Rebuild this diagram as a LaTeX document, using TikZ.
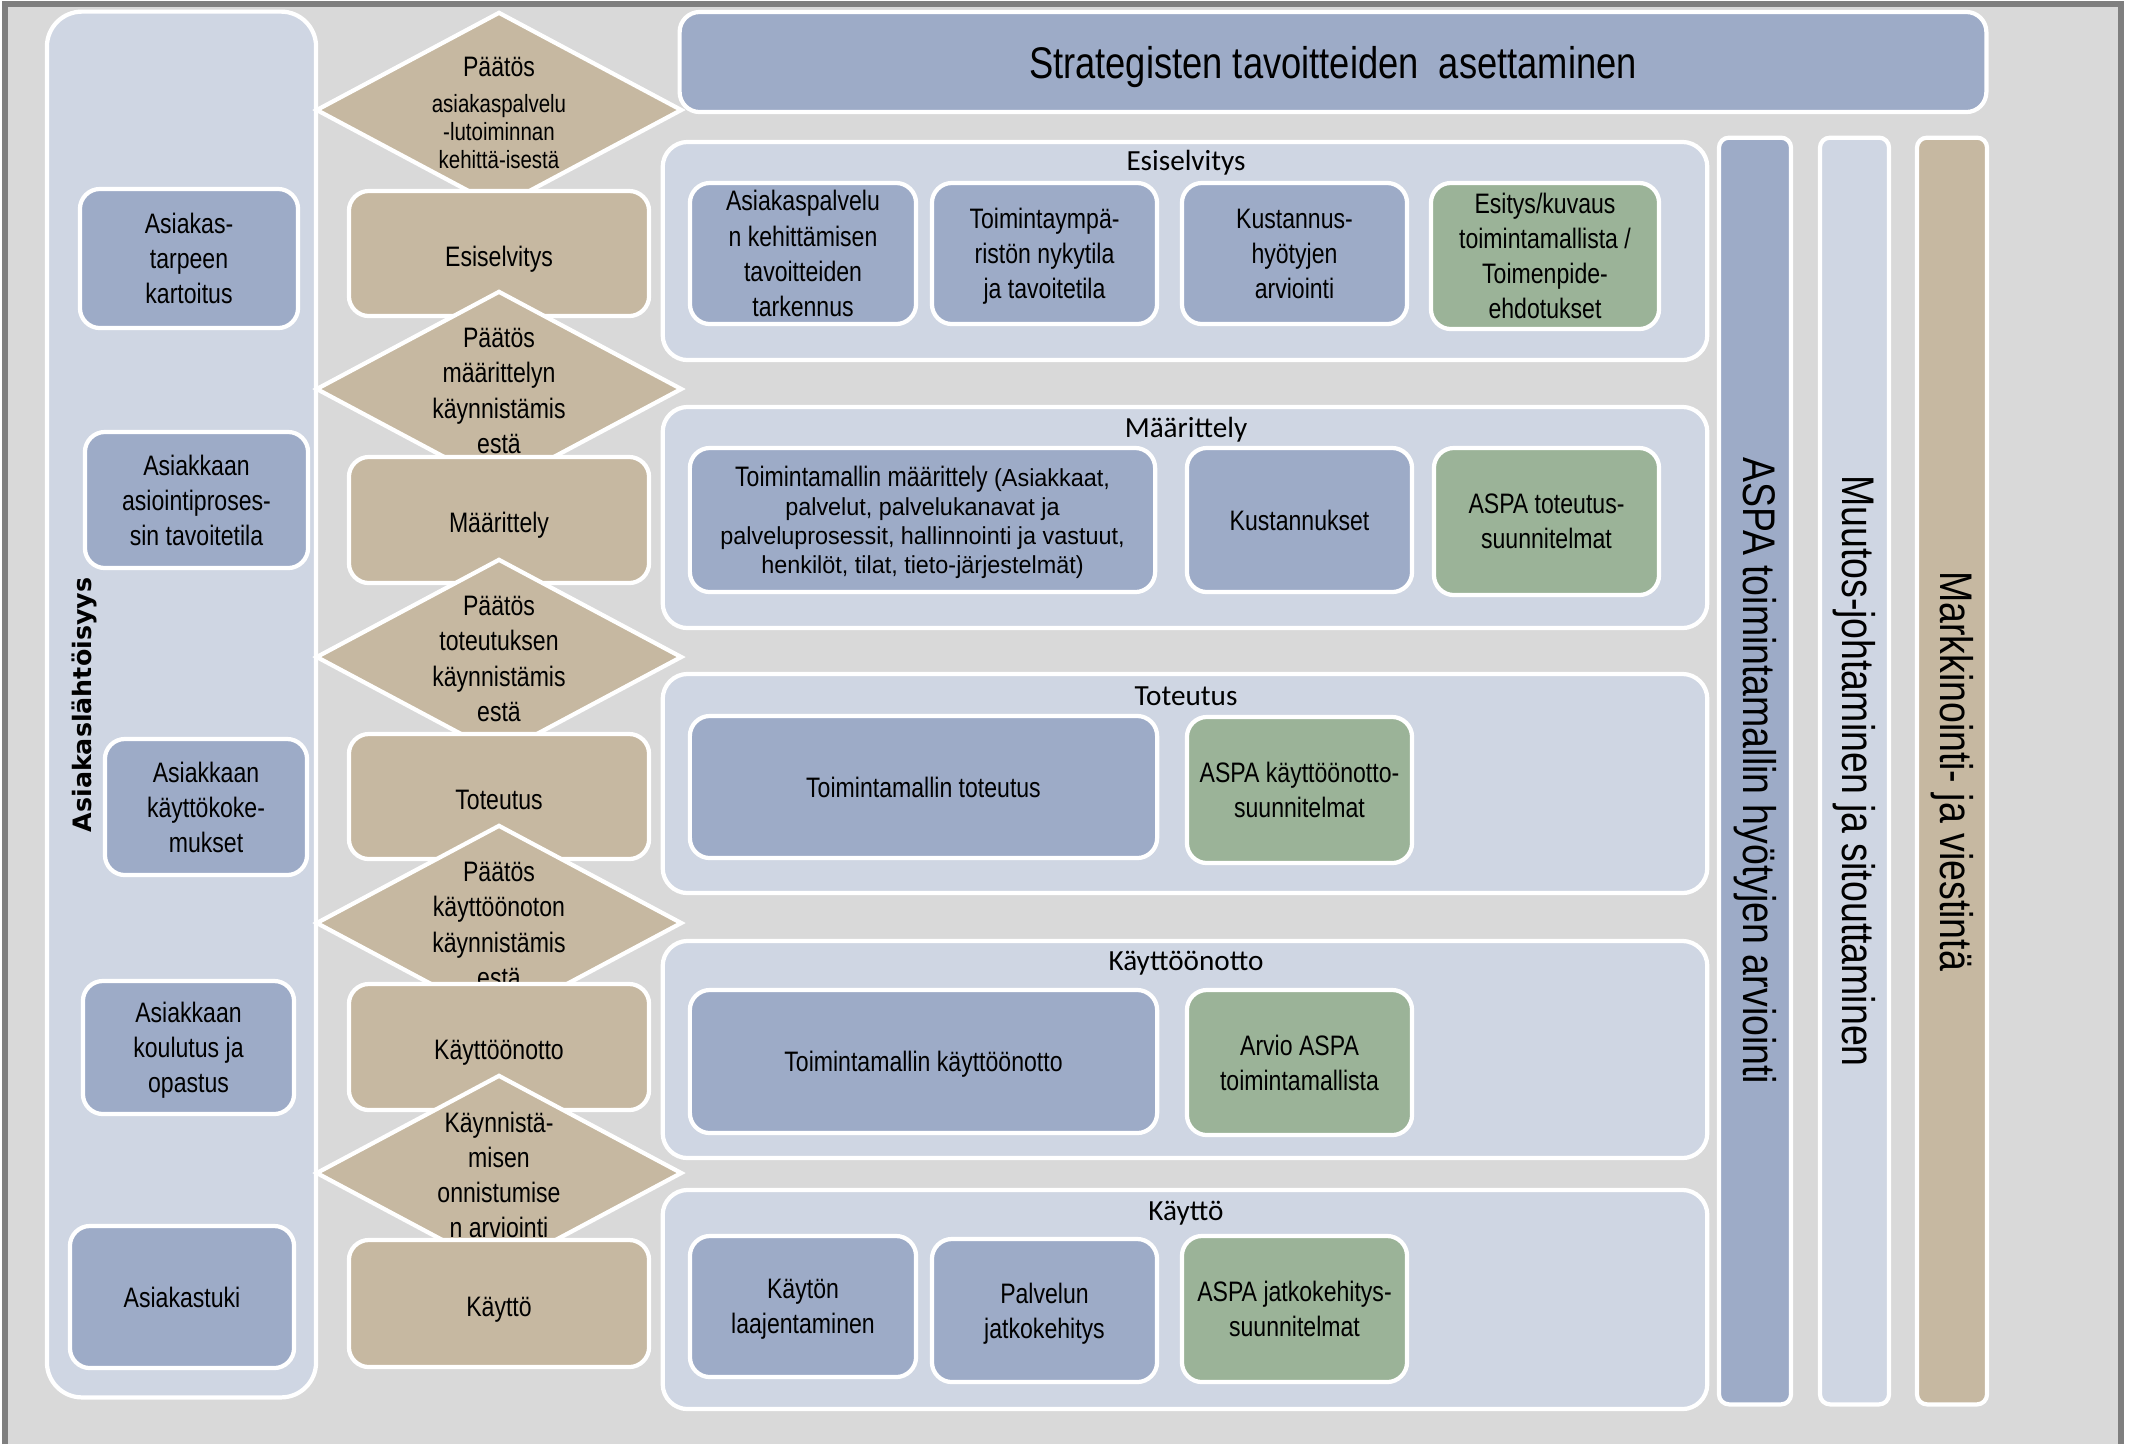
\documentclass[tikz,border=0pt]{standalone}
\usepackage{fontspec}
\setmainfont[FakeStretch=0.82]{Liberation Sans}
\newfontfamily\headfont{Carlito}
\newfontfamily\lanefont{DejaVu Sans}
\newfontfamily\notefont[FakeStretch=0.95]{Liberation Sans}
\usetikzlibrary{shapes.geometric}
\definecolor{bggray}{HTML}{D9D9D9}
\definecolor{framegray}{HTML}{7F7F7F}
\definecolor{lanefill}{HTML}{CFD6E3}
\definecolor{taskblue}{HTML}{9DABC7}
\definecolor{phasetan}{HTML}{C6B8A1}
\definecolor{plangreen}{HTML}{9BB398}

\begin{document}
\begin{tikzpicture}[x=0.01cm, y=-0.01cm,
    outline/.style={draw=white, line width=1.2pt},
    lane/.style={outline, rounded corners=0.35cm, fill=lanefill, inner sep=0pt},
    task/.style={outline, rounded corners=0.2cm, fill=taskblue, align=center,
                 inner sep=0pt, text depth=0pt, font=\fontsize{8}{10}\selectfont},
    phase/.style={task, fill=phasetan, minimum width=3cm, text height=0.25cm},
    plan/.style={task, fill=plangreen},
    gate/.style={diamond, outline, fill=phasetan, minimum width=3.66cm,
                 minimum height=1.96cm, inner sep=0pt},
    gatetext/.style={align=center, font=\fontsize{8}{10}\selectfont},
    panel/.style={outline, rounded corners=0.25cm, fill=lanefill,
                  minimum width=10.44cm, inner sep=0pt},
    head/.style={font=\headfont\fontsize{8.3}{10}\selectfont},
    bar/.style={outline, rounded corners=0.1cm, inner sep=0pt, rotate=-90,
                minimum width=12.66cm, font=\fontsize{13}{15}\selectfont}
]
\useasboundingbox (0,0) rectangle (2136,1444);

% background and frame
\fill[white] (0,0) rectangle (2136,1444);
\fill[bggray] (5,4) rectangle (2121,1444);
\draw[framegray, line width=1.7pt] (5,1444) -- (5,4) -- (2121,4) -- (2121,1444);

% customer lane
\node[lane, minimum width=2.69cm, minimum height=13.85cm] (lane) at (181.5,704.5) {};
\node[task, minimum width=2.18cm, minimum height=1.39cm] (need) at (189,258.5) {Asiakas-\\tarpeen\\kartoitus};
\node[task, minimum width=2.23cm, minimum height=1.36cm] (target) at (196.5,500) {Asiakkaan\\asiointiproses-\\sin tavoitetila};
\node[task, minimum width=2.02cm, minimum height=1.36cm] (experience) at (206,807) {Asiakkaan\\käyttökoke-\\mukset};
\node[task, minimum width=2.11cm, minimum height=1.33cm] (training) at (188.5,1047.5) {Asiakkaan\\koulutus ja\\opastus};
\node[task, minimum width=2.24cm, minimum height=1.42cm] (support) at (182,1297) {Asiakastuki};
\node[rotate=90, font=\lanefont\bfseries\fontsize{7.2}{9}\selectfont] (lanelbl) at (84,705) {Asiakaslähtöisyys};

% decisions and phases
\node[gate] (g1) at (499,110) {};
\node[gatetext, font=\fontsize{7.1}{8}\selectfont] (g1t) at (499,113)
    {{\fontsize{8}{8}\selectfont Päätös}\\[2pt]asiakaspalvelu\\-lutoiminnan\\kehittä-isestä};
\node[phase, minimum height=1.25cm] (esi) at (499,253.5) {Esiselvitys};
\node[gate] (g2) at (499,389) {};
\node[gatetext] (g2t) at (499,391) {Päätös\\määrittelyn\\käynnistämis\\estä};
\node[phase, minimum height=1.26cm] (maar) at (499,520) {Määrittely};
\node[gate] (g3) at (499,657) {};
\node[gatetext] (g3t) at (499,659) {Päätös\\toteutuksen\\käynnistämis\\estä};
\node[phase, minimum height=1.25cm] (tot) at (499,796.5) {Toteutus};
\node[gate] (g4) at (499,923) {};
\node[gatetext] (g4t) at (499,925) {Päätös\\käyttöönoton\\käynnistämis\\estä};
\node[phase, minimum height=1.26cm] (kayo) at (499,1047) {Käyttöönotto};
\node[gate] (g5) at (499,1173) {};
\node[gatetext] (g5t) at (499,1175) {Käynnistä-\\misen\\onnistumise\\n arviointi};
\node[phase, minimum height=1.27cm] (kayt) at (499,1303.5) {Käyttö};

% strategy banner
\node[task, minimum width=13.06cm, minimum height=1cm, font=\fontsize{12.6}{15}\selectfont]
    (strat) at (1333,62) {Strategisten tavoitteiden~ asettaminen};

% Esiselvitys
\node[panel, minimum height=2.18cm] (p1) at (1185,251) {};
\node[head] (p1t) at (1186,163) {Esiselvitys};
\node[task, minimum width=2.26cm, minimum height=1.41cm] (p1a) at (803,253.5) {Asiakaspalvelu\\n kehittämisen\\tavoitteiden\\tarkennus};
\node[task, minimum width=2.25cm, minimum height=1.41cm] (p1b) at (1044.5,253.5) {Toimintaympä-\\ristön nykytila\\ja tavoitetila};
\node[task, minimum width=2.25cm, minimum height=1.41cm] (p1c) at (1294.5,253.5) {Kustannus-\\hyötyjen\\arviointi};
\node[plan, minimum width=2.28cm, minimum height=1.46cm] (p1d) at (1545,256) {Esitys/kuvaus\\toimintamallista /\\Toimenpide-\\ehdotukset};

% Määrittely
\node[panel, minimum height=2.21cm] (p2) at (1185,517.5) {};
\node[head] (p2t) at (1186,430) {Määrittely};
\node[task, minimum width=4.65cm, minimum height=1.44cm, font=\notefont\fontsize{7}{8.2}\selectfont] (p2a) at (922.5,520)
    {{\normalfont\fontsize{8}{8.2}\selectfont Toimintamallin määrittely} (Asiakkaat,\\palvelut, palvelukanavat ja\\palveluprosessit, hallinnointi ja vastuut,\\henkilöt, tilat, tieto-järjestelmät)};
\node[task, minimum width=2.25cm, minimum height=1.44cm] (p2b) at (1299.5,520) {Kustannukset};
\node[plan, minimum width=2.25cm, minimum height=1.47cm] (p2c) at (1546.5,521.5) {ASPA toteutus-\\suunnitelmat};

% Toteutus
\node[panel, minimum height=2.19cm] (p3) at (1185,783.5) {};
\node[head] (p3t) at (1186,696) {Toteutus};
\node[task, minimum width=4.67cm, minimum height=1.42cm] (p3a) at (923.5,787) {Toimintamallin toteutus};
\node[plan, minimum width=2.25cm, minimum height=1.46cm] (p3b) at (1299.5,790) {ASPA käyttöönotto-\\suunnitelmat};

% Käyttöönotto
\node[panel, minimum height=2.17cm] (p4) at (1185,1049.5) {};
\node[head] (p4t) at (1186,963) {Käyttöönotto};
\node[task, minimum width=4.67cm, minimum height=1.43cm] (p4a) at (923.5,1061.5) {Toimintamallin käyttöönotto};
\node[plan, minimum width=2.25cm, minimum height=1.45cm] (p4b) at (1299.5,1062.5) {Arvio ASPA\\toimintamallista};

% Käyttö
\node[panel, minimum height=2.19cm] (p5) at (1185,1299.5) {};
\node[head] (p5t) at (1186,1213) {Käyttö};
\node[task, minimum width=2.26cm, minimum height=1.41cm] (p5a) at (803,1306.5) {Käytön\\laajentaminen};
\node[task, minimum width=2.25cm, minimum height=1.43cm] (p5b) at (1044.5,1310.5) {Palvelun\\jatkokehitys};
\node[plan, minimum width=2.25cm, minimum height=1.46cm] (p5c) at (1294.5,1309) {ASPA jatkokehitys-\\suunnitelmat};

% side bars
\node[bar, fill=taskblue, minimum height=0.72cm] (aspa) at (1755,771) {ASPA toimintamallin hyötyjen arviointi};
\node[bar, fill=lanefill, minimum height=0.69cm] (change) at (1854.5,771) {Muutos-johtaminen ja sitouttaminen};
\node[bar, fill=phasetan, minimum height=0.70cm] (market) at (1952,771) {Markkinointi- ja viestintä};
\end{tikzpicture}
\end{document}
